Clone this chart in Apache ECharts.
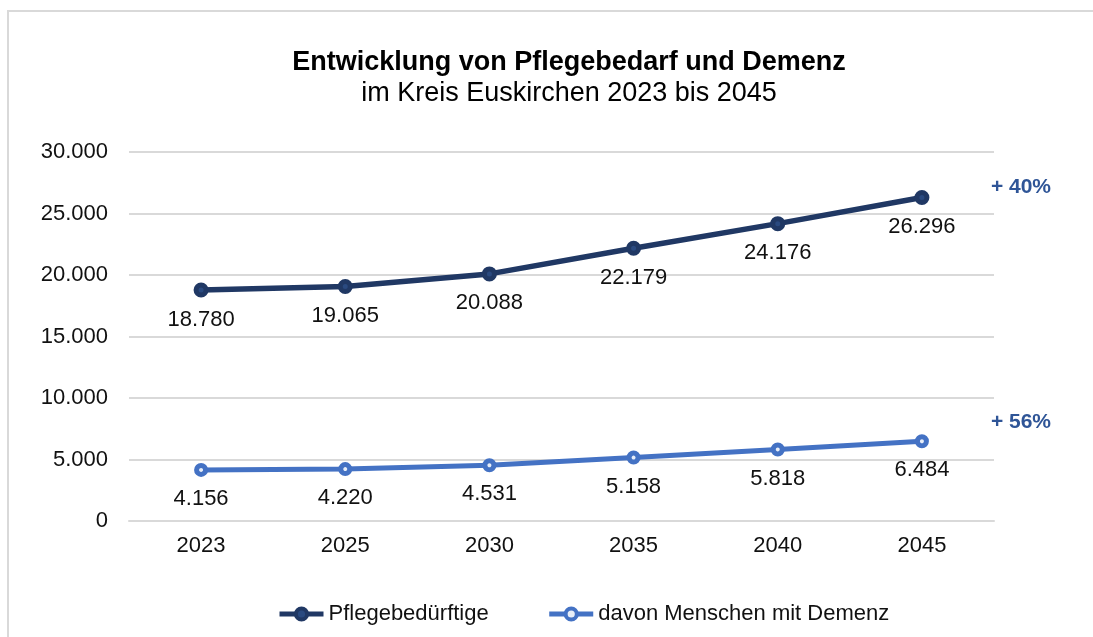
<!DOCTYPE html>
<html>
<head>
<meta charset="utf-8">
<title>Pflegebedarf und Demenz</title>
<script src="https://cdn.jsdelivr.net/npm/echarts@6/dist/echarts.min.js"></script>
<style>
    html, body { margin: 0; padding: 0; background: #fff; }
    #line-chart { width: 1093px; height: 637px; }
</style>
</head>
<body>
<div id="line-chart"></div>
<script>
var jahre = ['2023', '2025', '2030', '2035', '2040', '2045'];
var pflegebeduerftige = [18780, 19065, 20088, 22179, 24176, 26296];
var demenz = [4156, 4220, 4531, 5158, 5818, 6484];
var yTicks = [0, 5000, 10000, 15000, 20000, 25000, 30000];

var FONT = '"Liberation Sans", Arial, sans-serif';

// Tausenderpunkt wie im Original: 18.780
function fmt(v) {
    return String(v).replace(/\B(?=(\d{3})+(?!\d))/g, '.');
}
// Zuwachs erster -> letzter Wert
function zuwachs(arr) {
    return '+ ' + Math.round((arr[arr.length - 1] / arr[0] - 1) * 100) + '%';
}

function lineChart() {
    var echart = echarts.init(document.getElementById('line-chart'));
    var option = {
        animation: false,
        backgroundColor: '#fff',
        textStyle: { fontFamily: FONT },
        graphic: [{
            type: 'rect',
            shape: { x: 8, y: 11, width: 1200, height: 1000 },
            style: { fill: 'none', stroke: '#d9d9d9', lineWidth: 2 },
            silent: true
        }],
        title: {
            text: 'Entwicklung von Pflegebedarf und Demenz',
            subtext: 'im Kreis Euskirchen 2023 bis 2045',
            left: 564,
            top: 44,
            textAlign: 'center',
            itemGap: 4,
            textStyle: { fontFamily: FONT, fontSize: 27, fontWeight: 'bold', color: '#000' },
            subtextStyle: { fontFamily: FONT, fontSize: 27, color: '#000' }
        },
        legend: {
            left: 272,
            top: 598,
            itemWidth: 44,
            itemHeight: 14,
            itemGap: 58,
            textStyle: { fontFamily: FONT, fontSize: 22, color: '#111' },
            lineStyle: { width: 5 },
            data: [
                { name: 'Pflegebedürftige',
                  itemStyle: { color: '#2a4a80', borderColor: '#203864', borderWidth: 4 } },
                { name: 'davon Menschen mit Demenz',
                  itemStyle: { color: '#e8eef8', borderColor: '#4472c4', borderWidth: 4 } }
            ]
        },
        grid: { left: 129, right: 99, top: 152, bottom: 116 },
        xAxis: {
            type: 'category',
            data: jahre,
            axisLine: { show: true, lineStyle: { color: '#d9d9d9', width: 2 } },
            axisTick: { show: false },
            axisLabel: { fontFamily: FONT, fontSize: 22, color: '#111', margin: 14 }
        },
        yAxis: {
            type: 'value',
            min: yTicks[0],
            max: yTicks[yTicks.length - 1],
            interval: yTicks[1] - yTicks[0],
            axisLine: { show: false },
            axisTick: { show: false },
            splitLine: { lineStyle: { color: '#d9d9d9', width: 2 } },
            axisLabel: { fontFamily: FONT, fontSize: 22, color: '#111', margin: 21, formatter: fmt }
        },
        series: [{
            name: 'Pflegebedürftige',
            type: 'line',
            data: pflegebeduerftige,
            symbol: 'circle',
            symbolSize: 10,
            lineStyle: { color: '#203864', width: 5.5 },
            itemStyle: { color: '#2a4a80', borderColor: '#203864', borderWidth: 5 },
            label: {
                show: true, position: 'bottom', distance: 11,
                fontFamily: FONT, fontSize: 22, color: '#111',
                formatter: function (p) { return fmt(p.value); }
            },
            endLabel: {
                show: true, offset: [61, -10],
                fontFamily: FONT, fontSize: 21, fontWeight: 'bold', color: '#2f5597',
                formatter: function () { return zuwachs(pflegebeduerftige); }
            },
            emphasis: { disabled: true }
        }, {
            name: 'davon Menschen mit Demenz',
            type: 'line',
            data: demenz,
            symbol: 'circle',
            symbolSize: 9,
            lineStyle: { color: '#4472c4', width: 5 },
            itemStyle: { color: '#e8eef8', borderColor: '#4472c4', borderWidth: 5 },
            label: {
                show: true, position: 'bottom', distance: 11,
                fontFamily: FONT, fontSize: 22, color: '#111',
                formatter: function (p) { return fmt(p.value); }
            },
            endLabel: {
                show: true, offset: [61, -19],
                fontFamily: FONT, fontSize: 21, fontWeight: 'bold', color: '#2f5597',
                formatter: function () { return zuwachs(demenz); }
            },
            emphasis: { disabled: true }
        }]
    };
    echart.setOption(option);
}

lineChart();
</script>
</body>
</html>
